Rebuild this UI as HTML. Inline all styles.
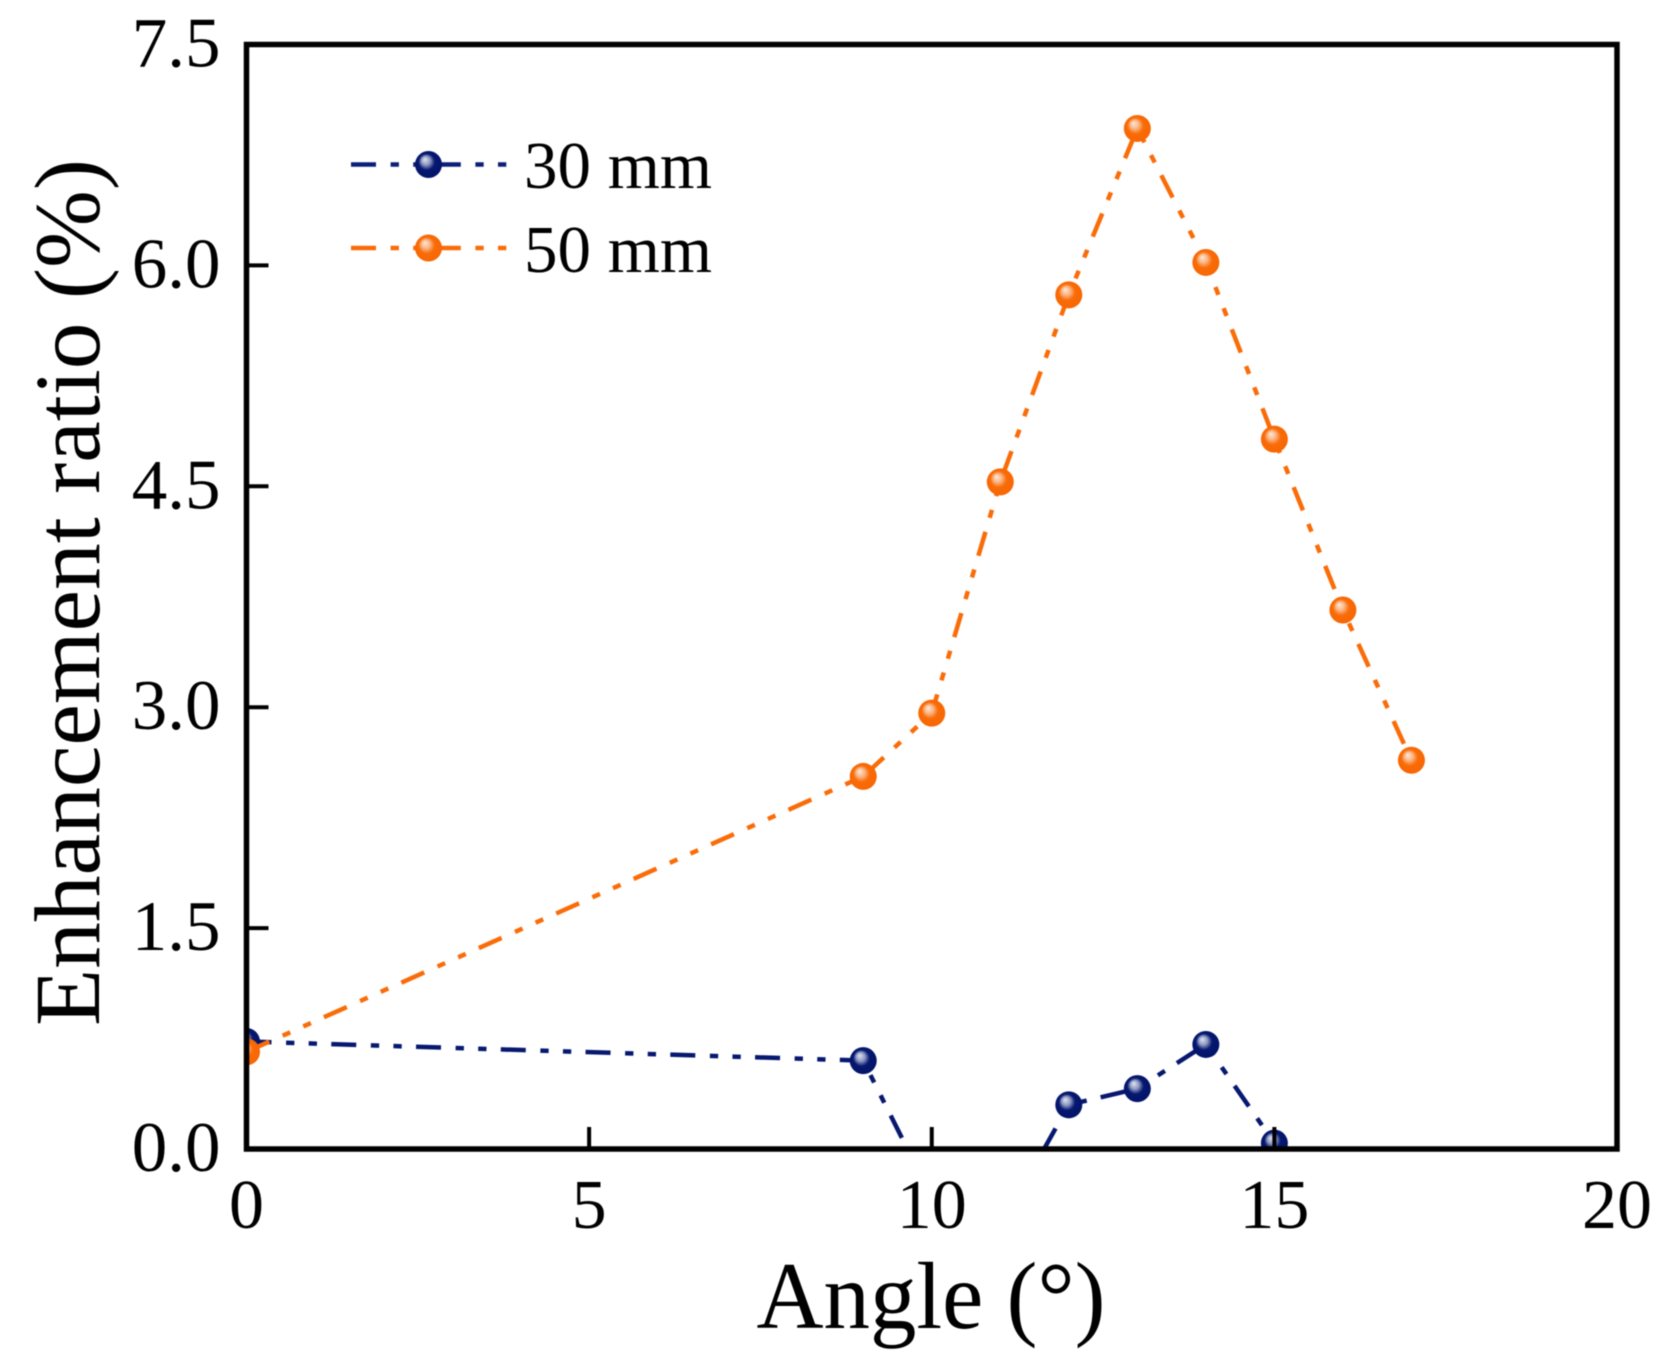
<!DOCTYPE html>
<html lang="en">
<head>
<meta charset="utf-8">
<title>Enhancement ratio vs angle</title>
<style>
html,body{margin:0;padding:0;background:#fff;width:1659px;height:1360px;overflow:hidden}
svg{display:block;filter:blur(0.6px)}
text{font-family:"Liberation Serif",serif;fill:#000}
</style>
</head>
<body>
<svg id="chart" xmlns="http://www.w3.org/2000/svg" width="1659" height="1360" viewBox="0 0 1659 1360">
  <defs>
    <radialGradient id="ball-navy" cx="0.5" cy="0.5" r="0.58" fx="0.36" fy="0.3">
      <stop offset="0" stop-color="#e2e5f0"/>
      <stop offset="0.28" stop-color="#8f9ac4"/>
      <stop offset="0.52" stop-color="#06186f"/>
      <stop offset="1" stop-color="#001368"/>
    </radialGradient>
    <radialGradient id="ball-orange" cx="0.5" cy="0.5" r="0.58" fx="0.36" fy="0.3">
      <stop offset="0" stop-color="#fcebdd"/>
      <stop offset="0.28" stop-color="#fbb483"/>
      <stop offset="0.52" stop-color="#f96c08"/>
      <stop offset="1" stop-color="#f76400"/>
    </radialGradient>
    <clipPath id="plot-clip"><rect x="246.5" y="44.5" width="1370.5" height="1104.5"/></clipPath>
  </defs>
  <g id="series-layer" clip-path="url(#plot-clip)"></g>
  <g id="axes-layer"></g>
  <text x="931" y="1328" font-size="95" text-anchor="middle" textLength="349" lengthAdjust="spacingAndGlyphs">Angle (°)</text>
  <text transform="translate(99,592.5) rotate(-90)" font-size="93.5" text-anchor="middle">Enhancement ratio (%)</text>
  <g>
    <g>
      <line x1="351" y1="164.5" x2="507" y2="164.5" stroke="#0c1f78" stroke-width="4.5" stroke-dasharray="25 14.6 8.3 14.3 8.3 14.3"/>
      <circle cx="428.5" cy="164.5" r="13.5" fill="url(#ball-navy)"/>
      <text x="524" y="188" font-size="67">30 mm</text>
    </g>
    <g>
      <line x1="351" y1="248" x2="507" y2="248" stroke="#f96c08" stroke-width="4.5" stroke-dasharray="25 14.6 8.3 14.3 8.3 14.3"/>
      <circle cx="428.5" cy="248" r="13.5" fill="url(#ball-orange)"/>
      <text x="524" y="272" font-size="67">50 mm</text>
    </g>
  </g>
</svg>
<script>
const angles30 = [0, 9, 10, 11, 12, 13, 14, 15];
const ratio30 = [0.73, 0.60, -0.33, -0.53, 0.30, 0.41, 0.71, 0.04];
const angles50 = [0, 9, 10, 11, 12, 13, 14, 15, 16, 17];
const ratio50 = [0.66, 2.53, 2.96, 4.53, 5.80, 6.93, 6.02, 4.82, 3.66, 2.64];
const xTickValues = [0, 5, 10, 15, 20];
const xTickLabels = ['0', '5', '10', '15', '20'];
const yTickValues = [0, 1.5, 3, 4.5, 6, 7.5];
const yTickLabels = ['0.0', '1.5', '3.0', '4.5', '6.0', '7.5'];

const SVG_NS = 'http://www.w3.org/2000/svg';
const plotLeft = 246.5, plotRight = 1617, plotTop = 44.5, plotBottom = 1149;
const xMin = 0, xMax = 20, yMin = 0, yMax = 7.5;
function xScale(v) { return plotLeft + (v - xMin) / (xMax - xMin) * (plotRight - plotLeft); }
function yScale(v) { return plotBottom - (v - yMin) / (yMax - yMin) * (plotBottom - plotTop); }
function make(tag, attrs, parent) {
  const el = document.createElementNS(SVG_NS, tag);
  for (const k in attrs) el.setAttribute(k, attrs[k]);
  parent.appendChild(el);
  return el;
}
const seriesLayer = document.getElementById('series-layer');
const axesLayer = document.getElementById('axes-layer');

function drawSeries(xs, ys, color, grad, label) {
  const pts = xs.map(function (x, i) { return xScale(x).toFixed(2) + ',' + yScale(ys[i]).toFixed(2); }).join(' ');
  const line = make('polyline', { points: pts, fill: 'none', stroke: color, 'stroke-width': 4.5, 'stroke-dasharray': '25 14.6 8.3 14.3 8.3 14.3' }, seriesLayer);
  
  
  xs.forEach(function (x, i) {
    const c = make('circle', { cx: xScale(x), cy: yScale(ys[i]), r: 13.5, fill: 'url(#' + grad + ')' }, seriesLayer);
    
    
  });
}
drawSeries(angles30, ratio30, '#06186f', 'ball-navy', '30-mm');
drawSeries(angles50, ratio50, '#f96c08', 'ball-orange', '50-mm');

const frame = make('rect', { x: plotLeft, y: plotTop, width: plotRight - plotLeft, height: plotBottom - plotTop, fill: 'none', stroke: '#000', 'stroke-width': 5.5 }, axesLayer);



xTickValues.forEach(function (v, i) {
  const t = make('line', { x1: xScale(v), x2: xScale(v), y1: plotBottom, y2: plotBottom - 22, stroke: '#000', 'stroke-width': 4 }, axesLayer);
  
  
  const l = make('text', { x: xScale(v), y: 1228, 'font-size': 70, 'text-anchor': 'middle' }, axesLayer);
  l.textContent = xTickLabels[i];
  
  
});
yTickValues.forEach(function (v, i) {
  const t = make('line', { x1: plotLeft, x2: plotLeft + 22, y1: yScale(v), y2: yScale(v), stroke: '#000', 'stroke-width': 4 }, axesLayer);
  
  
  const l = make('text', { x: 220.5, y: yScale(v) + 22, 'font-size': 71, 'text-anchor': 'end' }, axesLayer);
  l.textContent = yTickLabels[i];
  
  
});
</script>
</body>
</html>
